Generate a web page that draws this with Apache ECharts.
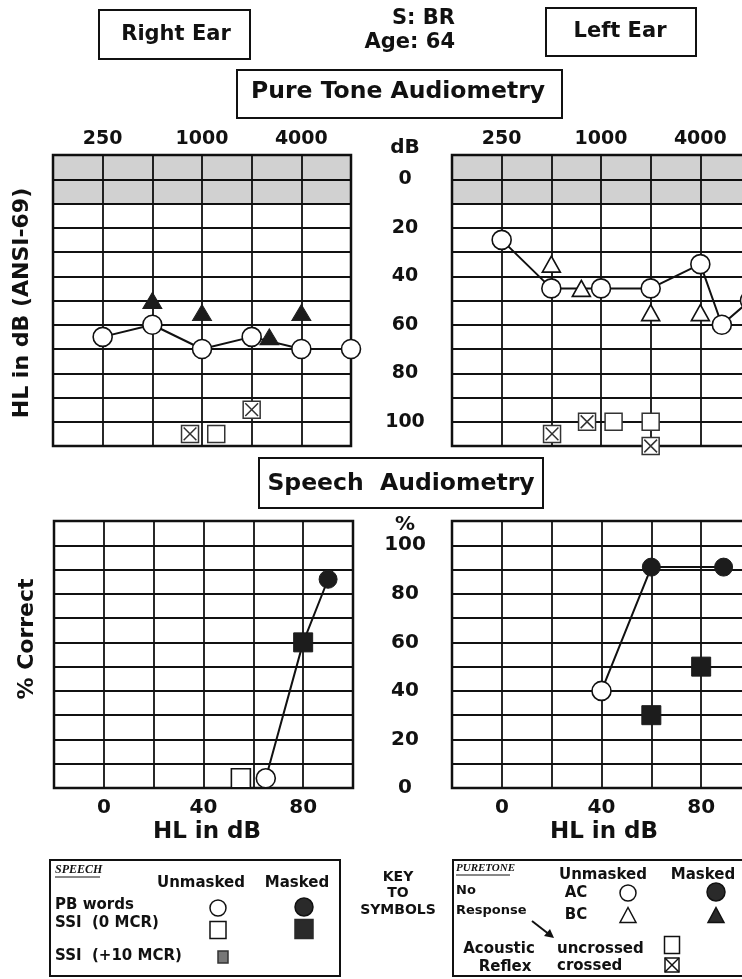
<!DOCTYPE html>
<html><head><meta charset="utf-8">
<script src="https://cdn.jsdelivr.net/npm/echarts@6/dist/echarts.min.js"></script>
<style>html,body{margin:0;padding:0;background:#fff}#c{width:742px;height:979px}</style>
</head><body><div id="c"></div>
<script>
// ---------------- data ----------------
const octaveBase = 125; // Hz at the left edge of each audiogram
const freqTickLabels = ['', '250', '', '1000', '', '4000', ''];
const dbTickLabels = [0, 20, 40, 60, 80, 100];
const speechXTickLabels = [0, 40, 80];
const speechYTickLabels = [0, 20, 40, 60, 80, 100];
const shadedBand = [-10, 10];

// Right ear, pure tone
const rightAcFreq = [250, 500, 1000, 2000, 4000, 8000];
const rightAcDb = [65, 60, 70, 65, 70, 70];
const rightBcMaskedFreq = [500, 1000, 2560, 4000];
const rightBcMaskedDb = [50, 55, 65, 55];
const rightReflexCrossedFreq = [846, 2000];
const rightReflexCrossedDb = [105, 95];
const rightReflexUncrossedFreq = [1220];
const rightReflexUncrossedDb = [105];

// Left ear, pure tone
const leftAcFreq = [250, 500, 1000, 2000, 4000, 5400, 8000];
const leftAcDb = [25, 45, 45, 45, 35, 60, 50];
const leftBcFreq = [500, 760, 2000, 4000];
const leftBcDb = [35, 45, 55, 55];
const leftReflexCrossedFreq = [505, 823, 2000];
const leftReflexCrossedDb = [105, 100, 110];
const leftReflexUncrossedFreq = [1192, 2000];
const leftReflexUncrossedDb = [100, 100];

// Right ear, speech
const rightPbUnmaskedHl = [65], rightPbUnmaskedPct = [4];
const rightPbMaskedHl = [90], rightPbMaskedPct = [86];
const rightSsiUnmaskedHl = [55], rightSsiUnmaskedPct = [4];
const rightSsiMaskedHl = [80], rightSsiMaskedPct = [60];
const rightSpeechLineHl = [65, 80, 90], rightSpeechLinePct = [4, 60, 86];

// Left ear, speech
const leftPbUnmaskedHl = [40], leftPbUnmaskedPct = [40];
const leftPbMaskedHl = [60, 89], leftPbMaskedPct = [91, 91];
const leftSsiMaskedHl = [60, 80], leftSsiMaskedPct = [30, 50];
const leftSpeechLineHl = [40, 60, 89], leftSpeechLinePct = [40, 91, 91];

// ---------------- helpers ----------------
const F = 'DejaVu Sans';
const INK = '#111';
const oct = f => Math.log2(f / octaveBase);
const ptPairs = (fr, db) => fr.map((f, i) => [oct(f), db[i]]);
const pairs = (xs, ys) => xs.map((x, i) => [x, ys[i]]);
const crossedBox = 'path://M0,0L16,0L16,16L0,16Z M2,2L14,14 M14,2L2,14';

const grids = [
  { left: 53, top: 155, width: 298, height: 291 },
  { left: 452, top: 155, width: 298, height: 291 },
  { left: 54, top: 521, width: 299, height: 267 },
  { left: 452, top: 521, width: 299, height: 267 }
].map(g => Object.assign(g, { show: true, borderColor: INK, borderWidth: 2.5, backgroundColor: 'transparent',
  containLabel: false, outerBoundsMode: 'none' }));

const split = { show: true, lineStyle: { color: INK, width: 1.8 } };
const tickFont = { fontFamily: F, fontWeight: 'bold', fontSize: 19, color: INK };

function ptX(gi) {
  return { type: 'value', gridIndex: gi, min: 0, max: 6, interval: 1, position: 'top',
    axisLine: { show: false }, axisTick: { show: false }, splitLine: split,
    axisLabel: Object.assign({ margin: 6, formatter: v => freqTickLabels[Math.round(v)] || '' }, tickFont) };
}
function ptY(gi, labels) {
  return { type: 'value', gridIndex: gi, min: -10, max: 110, interval: 10, inverse: true,
    axisLine: { show: false }, axisTick: { show: false }, splitLine: split,
    axisLabel: labels ? Object.assign({ margin: 47, align: 'center', formatter: v => dbTickLabels.includes(v) ? String(v) : '' }, tickFont) : { show: false } };
}
function spX(gi) {
  return { type: 'value', gridIndex: gi, min: -20, max: 100, interval: 20, position: 'bottom',
    axisLine: { show: false }, axisTick: { show: false }, splitLine: split,
    axisLabel: Object.assign({ margin: 10, formatter: v => speechXTickLabels.includes(v) ? String(v) : '' }, tickFont, { fontSize: 20 }) };
}
function spY(gi, labels) {
  return { type: 'value', gridIndex: gi, min: 0, max: 110, interval: 10,
    axisLine: { show: false }, axisTick: { show: false }, splitLine: split,
    axisLabel: labels ? Object.assign({ margin: 47, align: 'center', formatter: v => speechYTickLabels.includes(v) ? String(v) : '' }, tickFont, { fontSize: 20 }) : { show: false } };
}

const openCircle = { color: '#fff', borderColor: INK, borderWidth: 1.6, opacity: 1 };
const openBox = { color: '#fff', borderColor: '#333', borderWidth: 1.5, opacity: 1 };
const solid = { color: '#1c1c1c', borderColor: '#1c1c1c', borderWidth: 1, opacity: 1 };
const lineSt = { color: INK, width: 2 };
const shade = { silent: true, itemStyle: { color: 'rgba(0,0,0,0.18)' }, data: [[{ yAxis: shadedBand[0] }, { yAxis: shadedBand[1] }]] };

function sc(xi, data, symbol, size, style, z) {
  return { type: 'scatter', xAxisIndex: xi, yAxisIndex: xi, data, symbol, symbolSize: size, itemStyle: style, z: z || 4, clip: false, silent: true };
}
function ln(xi, data, symbol, size, style, extra) {
  return Object.assign({ type: 'line', xAxisIndex: xi, yAxisIndex: xi, data, symbol, symbolSize: size, showAllSymbol: true,
    itemStyle: style, lineStyle: lineSt, z: 3, clip: false, silent: true }, extra || {});
}

const series = [
  // right ear pure tone
  ln(0, ptPairs(rightAcFreq, rightAcDb), 'circle', 19, openCircle, { markArea: shade }),
  sc(0, ptPairs(rightBcMaskedFreq, rightBcMaskedDb), 'triangle', [19, 16], solid),
  sc(0, ptPairs(rightReflexCrossedFreq, rightReflexCrossedDb), crossedBox, 17, openBox),
  sc(0, ptPairs(rightReflexUncrossedFreq, rightReflexUncrossedDb), 'rect', 17, openBox),
  // left ear pure tone
  ln(1, ptPairs(leftAcFreq, leftAcDb), 'circle', 19, openCircle, { markArea: shade }),
  sc(1, ptPairs(leftBcFreq, leftBcDb), 'triangle', [18, 16], openCircle, 5),
  sc(1, ptPairs(leftReflexCrossedFreq, leftReflexCrossedDb), crossedBox, 17, openBox),
  sc(1, ptPairs(leftReflexUncrossedFreq, leftReflexUncrossedDb), 'rect', 17, openBox),
  // right speech
  ln(2, pairs(rightSpeechLineHl, rightSpeechLinePct), 'none', 0, solid),
  sc(2, pairs(rightPbUnmaskedHl, rightPbUnmaskedPct), 'circle', 19, openCircle),
  sc(2, pairs(rightPbMaskedHl, rightPbMaskedPct), 'circle', 18, solid),
  sc(2, pairs(rightSsiUnmaskedHl, rightSsiUnmaskedPct), 'rect', 19, openCircle),
  sc(2, pairs(rightSsiMaskedHl, rightSsiMaskedPct), 'rect', 19, solid),
  // left speech
  ln(3, pairs(leftSpeechLineHl, leftSpeechLinePct), 'none', 0, solid),
  sc(3, pairs(leftPbUnmaskedHl, leftPbUnmaskedPct), 'circle', 19, openCircle),
  sc(3, pairs(leftPbMaskedHl, leftPbMaskedPct), 'circle', 18, solid),
  sc(3, pairs(leftSsiMaskedHl, leftSsiMaskedPct), 'rect', 19, solid)
];

// ---------------- graphic (titles, boxes, key) ----------------
function txt(text, x, y, size, o) {
  o = o || {};
  const a = o.align || 'center';
  return { type: 'text', x, y, rotation: o.rot || 0, z: 20, silent: true,
    style: { text, fontSize: size, fontFamily: o.family || F, fontWeight: o.weight || 'bold', fontStyle: o.style || 'normal',
      fill: INK, align: a, textAlign: a, verticalAlign: 'middle', textVerticalAlign: 'middle' } };
}
function box(x, y, w, h, lw) {
  return { type: 'rect', z: 15, silent: true, shape: { x, y, width: w, height: h }, style: { fill: '#fff', stroke: INK, lineWidth: lw || 2 } };
}
function circ(cx, cy, r, fill) {
  return { type: 'circle', z: 20, silent: true, shape: { cx, cy, r }, style: { fill: fill || '#fff', stroke: INK, lineWidth: 1.5 } };
}
function sq(cx, cy, w, h, fill, stroke) {
  return { type: 'rect', z: 20, silent: true, shape: { x: cx - w / 2, y: cy - h / 2, width: w, height: h }, style: { fill: fill || '#fff', stroke: stroke || INK, lineWidth: 1.5 } };
}
function tri(cx, cy, w, h, fill) {
  return { type: 'polygon', z: 20, silent: true, shape: { points: [[cx, cy - h / 2], [cx + w / 2, cy + h / 2], [cx - w / 2, cy + h / 2]] }, style: { fill: fill || '#fff', stroke: INK, lineWidth: 1.5 } };
}
function seg(x1, y1, x2, y2, w) {
  return { type: 'line', z: 20, silent: true, shape: { x1, y1, x2, y2 }, style: { stroke: INK, lineWidth: w || 1.5 } };
}
const SERIF = 'Liberation Serif';

const graphic = [
  // header
  box(99, 10, 151, 49), txt('Right Ear', 176, 35, 21),
  txt('S: BR', 455, 19, 21, { align: 'right' }), txt('Age: 64', 455, 43, 21, { align: 'right' }),
  box(546, 8, 150, 48), txt('Left Ear', 620, 32, 21),
  box(237, 70, 325, 48), txt('Pure Tone Audiometry', 398, 92, 23.5),
  txt('dB', 405, 148, 20),
  txt('HL in dB (ANSI-69)', 22, 303, 22, { rot: Math.PI / 2 }),
  // speech
  box(259, 458, 284, 50), txt('Speech  Audiometry', 401, 484, 23.5),
  txt('%', 405, 525, 20),
  txt('% Correct', 27, 639, 22, { rot: Math.PI / 2 }),
  txt('HL in dB', 207, 832, 23), txt('HL in dB', 604, 832, 23),
  // speech key
  box(50, 860, 290, 116, 2),
  txt('SPEECH', 55, 870, 12, { align: 'left', family: SERIF, style: 'italic' }), seg(55, 877, 100, 877, 1),
  txt('Unmasked', 201, 883, 15), txt('Masked', 297, 883, 15),
  txt('PB words', 55, 905, 15, { align: 'left' }), txt('SSI  (0 MCR)', 55, 923, 15, { align: 'left' }),
  txt('SSI  (+10 MCR)', 55, 956, 15, { align: 'left' }),
  circ(218, 908, 8), circ(304, 907, 9, '#2a2a2a'),
  sq(218, 930, 16, 17), sq(304, 929, 18, 19, '#2a2a2a', '#2a2a2a'), sq(223, 957, 10, 12, '#777', '#333'),
  txt('KEY', 398, 877, 14), txt('TO', 398, 893, 14), txt('SYMBOLS', 398, 910, 14),
  // puretone key
  box(453, 860, 300, 116, 2),
  txt('PURETONE', 456, 868, 11, { align: 'left', family: SERIF, style: 'italic' }), seg(456, 875, 510, 875, 1),
  txt('Unmasked', 603, 875, 15), txt('Masked', 703, 875, 15),
  txt('No', 456, 891, 13, { align: 'left' }), txt('Response', 456, 911, 13, { align: 'left' }),
  txt('AC', 576, 893, 15), txt('BC', 576, 915, 15),
  circ(628, 893, 8), circ(716, 892, 9, '#2a2a2a'),
  tri(628, 915, 16, 15), tri(716, 915, 16, 15, '#2a2a2a'),
  seg(532, 921, 550, 935, 2),
  { type: 'polygon', z: 20, silent: true, shape: { points: [[554, 938], [544, 936], [550, 929]] }, style: { fill: INK } },
  txt('Acoustic', 499, 949, 15), txt('Reflex', 505, 967, 15),
  txt('uncrossed', 557, 949, 15, { align: 'left' }), txt('crossed', 557, 966, 15, { align: 'left' }),
  sq(672, 945, 15, 17),
  sq(672, 965, 14, 14), seg(665, 958, 679, 972, 1.5), seg(679, 958, 665, 972, 1.5)
];

const chart = echarts.init(document.getElementById('c'), null, { renderer: 'canvas', width: 742, height: 979 });
chart.setOption({
  backgroundColor: '#fff',
  animation: false,
  grid: grids,
  xAxis: [ptX(0), ptX(1), spX(2), spX(3)],
  yAxis: [ptY(0, false), ptY(1, true), spY(2, false), spY(3, true)],
  series,
  graphic
});
</script></body></html>
